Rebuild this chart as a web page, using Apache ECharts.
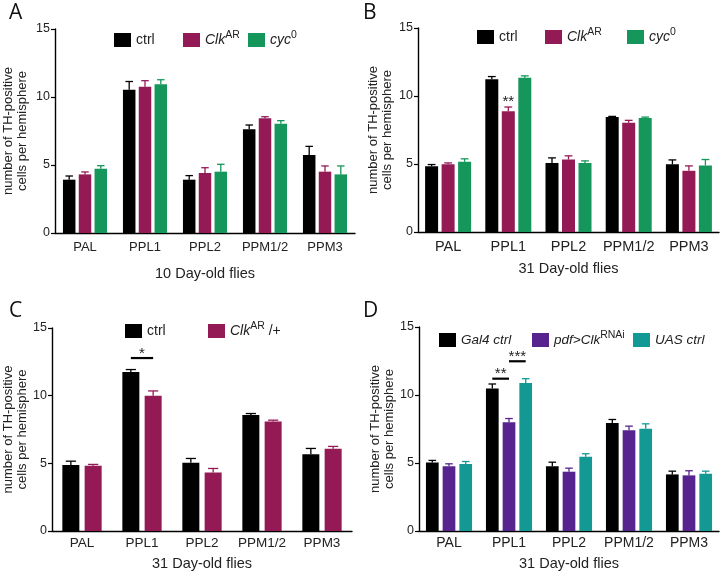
<!DOCTYPE html>
<html><head><meta charset="utf-8">
<script src="https://cdn.jsdelivr.net/npm/echarts@6/dist/echarts.min.js"></script>
<style>html,body{margin:0;padding:0;background:#fff}#c{width:720px;height:572px}</style>
</head><body><div id="c"></div>
<script>
// ---------- data ----------
const categories = ['PAL', 'PPL1', 'PPL2', 'PPM1/2', 'PPM3'];
const yTicks = [0, 5, 10, 15];
const xTitles = ['10 Day-old flies', '31 Day-old flies', '31 Day-old flies', '31 Day-old flies'];
const panelLetters = ['A', 'B', 'C', 'D'];

// Panel A (10 day-old)
const aCtrl = [3.92, 10.54, 3.92, 7.62, 5.74];
const aCtrlErr = [0.27, 0.60, 0.30, 0.32, 0.63];
const aClk = [4.31, 10.76, 4.41, 8.43, 4.51];
const aClkErr = [0.18, 0.44, 0.39, 0.12, 0.42];
const aCyc = [4.73, 10.93, 4.51, 8.04, 4.31];
const aCycErr = [0.22, 0.34, 0.54, 0.22, 0.62];

// Panel B (31 day-old)
const bCtrl = [4.84, 11.24, 5.08, 8.45, 4.98];
const bCtrlErr = [0.12, 0.19, 0.37, 0.05, 0.32];
const bClk = [4.98, 8.87, 5.33, 8.04, 4.50];
const bClkErr = [0.10, 0.32, 0.27, 0.17, 0.36];
const bCyc = [5.16, 11.34, 5.08, 8.38, 4.89];
const bCycErr = [0.22, 0.14, 0.15, 0.07, 0.44];

// Panel C (31 day-old, heterozygous)
const cCtrl = [4.87, 11.75, 5.04, 8.58, 5.68];
const cCtrlErr = [0.29, 0.18, 0.32, 0.10, 0.42];
const cClk = [4.82, 10.00, 4.33, 8.09, 6.07];
const cClkErr = [0.10, 0.35, 0.29, 0.10, 0.18];

// Panel D (31 day-old, RNAi)
const dGal4 = [5.04, 10.47, 4.77, 7.95, 4.16];
const dGal4Err = [0.15, 0.34, 0.29, 0.25, 0.24];
const dPdf = [4.77, 8.00, 4.36, 7.41, 4.09];
const dPdfErr = [0.17, 0.27, 0.26, 0.30, 0.34];
const dUas = [4.92, 10.89, 5.46, 7.51, 4.21];
const dUasErr = [0.19, 0.31, 0.22, 0.37, 0.19];

// significance: [category index, from bar, to bar, y value]
const sigB = [[1, 1, 1, 9.73]];
const sigBText = ['**'];
const sigC = [[1, 0, 1, 12.78]];
const sigCText = ['*'];
const sigD = [[1, 0, 1, 11.2], [1, 1, 2, 12.48]];
const sigDText = ['**', '***'];

// ---------- styling / layout ----------
const COL = {black: '#000000', clk: '#941a55', cyc: '#15965a', pdf: '#56238f', uas: '#139893'};
const FONT = 'Liberation Sans';

const panels = [
  {grid: {left: 53, top: 29, width: 302, height: 204}, barW: 12.5, gapPx: 3.3, nameGap: 33, yNameGap: 26, labelMargin: 8, tickFont: 13,
   series: [['a0', aCtrl, aCtrlErr, COL.black], ['a1', aClk, aClkErr, COL.clk], ['a2', aCyc, aCycErr, COL.cyc]],
   legends: [[114, 30], [183, 30], [248, 30]], legFont: 14, sig: [], sigText: []},
  {grid: {left: 418, top: 28, width: 301, height: 204}, barW: 13, gapPx: 3.5, nameGap: 29, yNameGap: 24, labelMargin: 7, tickFont: 14.5,
   series: [['b0', bCtrl, bCtrlErr, COL.black], ['b1', bClk, bClkErr, COL.clk], ['b2', bCyc, bCycErr, COL.cyc]],
   legends: [[477, 27], [545, 27], [627, 27]], legFont: 14, sig: sigB, sigText: sigBText},
  {grid: {left: 52, top: 328, width: 300, height: 203}, barW: 17, gapPx: 5.3, nameGap: 25, yNameGap: 23, labelMargin: 5, tickFont: 13.5,
   series: [['c0', cCtrl, cCtrlErr, COL.black], ['c1', cClk, cClkErr, COL.clk]],
   legends: [[125, 321], [208, 321]], legFont: 14, sig: sigC, sigText: sigCText},
  {grid: {left: 419, top: 327, width: 300, height: 204}, barW: 12.7, gapPx: 4, nameGap: 25, yNameGap: 17, labelMargin: 5, tickFont: 14,
   series: [['d0', dGal4, dGal4Err, COL.black], ['d1', dPdf, dPdfErr, COL.pdf], ['d2', dUas, dUasErr, COL.uas]],
   legends: [[439, 330], [532, 330], [633, 330]], legFont: 13.5, sig: sigD, sigText: sigDText}
];

const legendLabels = {
  a0: '{n|ctrl}{s| }', a1: '{i|Clk}{s|AR}', a2: '{i|cyc}{s|0}',
  b0: '{n|ctrl}{s| }', b1: '{i|Clk}{s|AR}', b2: '{i|cyc}{s|0}',
  c0: '{n|ctrl}{s| }', c1: '{i|Clk}{s|AR}{n| /+}',
  d0: '{i|Gal4 ctrl}{s| }', d1: '{i|pdf>Clk}{s|RNAi}', d2: '{i|UAS ctrl}{s| }'
};

function errSeries(g, vals, errs, idx, n, w, gap, color) {
  return {
    type: 'custom', xAxisIndex: g, yAxisIndex: g, silent: true, z: 4,
    data: vals.map((v, i) => [i, v, errs[i]]),
    renderItem(params, api) {
      const c = api.value(0), v = api.value(1), e = api.value(2);
      const p0 = api.coord([c, v]);
      const p1 = api.coord([c, v + e]);
      const total = n * w + (n - 1) * gap;
      const x = p0[0] - total / 2 + idx * (w + gap) + w / 2;
      const hw = w * 0.3;
      const st = {stroke: color, lineWidth: 1.3};
      return {type: 'group', children: [
        {type: 'line', shape: {x1: x, y1: p0[1], x2: x, y2: p1[1]}, style: st},
        {type: 'line', shape: {x1: x - hw, y1: p1[1], x2: x + hw, y2: p1[1]}, style: st}
      ]};
    }
  };
}

function sigSeries(g, sig, texts, n, w, gap) {
  return {
    type: 'custom', xAxisIndex: g, yAxisIndex: g, silent: true, z: 5,
    data: sig,
    renderItem(params, api) {
      const c = api.value(0), a = api.value(1), b = api.value(2), y = api.value(3);
      const p = api.coord([c, y]);
      const total = n * w + (n - 1) * gap;
      const xa = p[0] - total / 2 + a * (w + gap) + w / 2;
      const xb = p[0] - total / 2 + b * (w + gap) + w / 2;
      const children = [];
      if (a !== b) {
        children.push({type: 'line', shape: {x1: xa, y1: p[1], x2: xb, y2: p[1]}, style: {stroke: '#000', lineWidth: 2.2}});
      }
      children.push({type: 'text', style: {text: texts[params.dataIndex], x: (xa + xb) / 2, y: a !== b ? p[1] - 4.5 : p[1] + 2.5,
        align: 'center', verticalAlign: 'middle', fontSize: 15, fontFamily: FONT, fill: '#222'}});
      return {type: 'group', children};
    }
  };
}

const option = {
  animation: false,
  backgroundColor: '#fff',
  title: panels.map((p, i) => ({
    text: panelLetters[i], left: i % 2 ? 358 : 4, top: i < 2 ? -2 : 296,
    textStyle: {fontSize: 21, fontWeight: 'normal', fontFamily: 'Open Sans', color: '#111'}
  })),
  grid: panels.map(p => p.grid),
  xAxis: panels.map((p, i) => ({
    type: 'category', gridIndex: i, data: categories,
    axisLine: {lineStyle: {color: '#000', width: 1.4}},
    axisTick: {alignWithLabel: true, length: 4, lineStyle: {color: '#000', width: 1.2}},
    axisLabel: {interval: 0, fontSize: p.tickFont, color: '#222', fontFamily: FONT, margin: p.labelMargin},
    name: xTitles[i], nameLocation: 'middle', nameGap: p.nameGap,
    nameTextStyle: {fontSize: 14.5, color: '#222', fontFamily: FONT}
  })),
  yAxis: panels.map((p, i) => ({
    type: 'value', gridIndex: i, min: yTicks[0], max: yTicks[yTicks.length - 1], interval: 5,
    splitLine: {show: false},
    axisLine: {show: true, lineStyle: {color: '#000', width: 1.4}},
    axisTick: {show: true, length: 4, lineStyle: {color: '#000', width: 1.2}},
    axisLabel: {fontSize: 12.5, color: '#222', fontFamily: FONT, margin: 5},
    name: 'number of TH-positive\ncells per hemisphere', nameLocation: 'middle', nameRotate: 90,
    nameGap: p.yNameGap,
    nameTextStyle: {fontSize: 13, lineHeight: 14, color: '#222', fontFamily: FONT}
  })),
  legend: [],
  series: []
};

panels.forEach((p, g) => {
  const n = p.series.length;
  p.series.forEach((s, k) => {
    option.series.push({
      type: 'bar', name: s[0], xAxisIndex: g, yAxisIndex: g, data: s[1],
      barWidth: p.barW, barGap: (p.gapPx / p.barW * 100) + '%',
      itemStyle: {color: s[3]}, z: 2
    });
    option.legend.push({
      data: [s[0]], left: p.legends[k][0], top: p.legends[k][1],
      itemWidth: 17, itemHeight: 14, icon: 'rect', itemGap: 0, padding: 0,
      selectedMode: false,
      formatter: name => legendLabels[name],
      textStyle: {fontFamily: FONT, color: '#222', fontSize: p.legFont, rich: {
        n: {fontSize: p.legFont, lineHeight: 20, fontFamily: FONT, color: '#222'},
        i: {fontSize: p.legFont, lineHeight: 20, fontStyle: 'italic', fontFamily: FONT, color: '#222'},
        s: {fontSize: 10.5, lineHeight: 9, verticalAlign: 'top', fontFamily: FONT, color: '#222'}
      }}
    });
  });
  p.series.forEach((s, k) => {
    option.series.push(errSeries(g, s[1], s[2], k, n, p.barW, p.gapPx, s[3]));
  });
  if (p.sig.length) option.series.push(sigSeries(g, p.sig, p.sigText, n, p.barW, p.gapPx));
});

const chart = echarts.init(document.getElementById('c'), null, {renderer: 'canvas'});
chart.setOption(option);
</script>
</body></html>
